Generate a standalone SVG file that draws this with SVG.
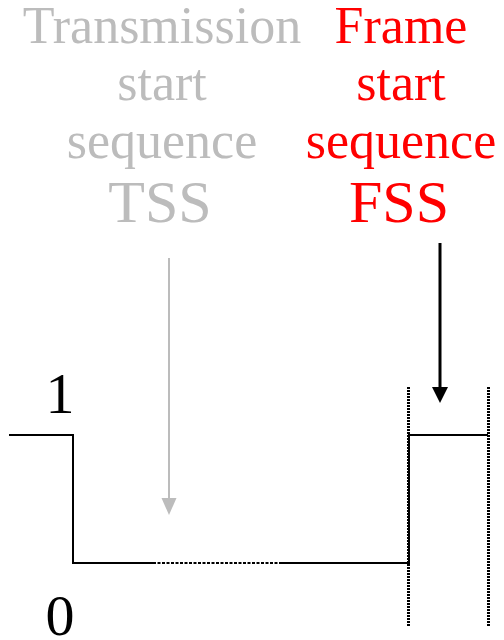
<svg xmlns="http://www.w3.org/2000/svg" width="504" height="640" viewBox="0 0 504 640">
<style>
text{font-family:"Liberation Serif","Times New Roman",serif;text-anchor:middle}
.g{fill:#bcbcbc}
.r{fill:#ff0000}
.sig{fill:none;stroke:#000;stroke-width:2}
.dot{fill:none;stroke:#000;stroke-width:3;stroke-dasharray:2,1}
</style>
<g id="tss-label">
<text class="g" x="162" y="43" font-size="52">Transmission</text>
<text class="g" x="162" y="100" font-size="52">start</text>
<text class="g" x="162" y="158" font-size="52">sequence</text>
<text class="g" x="160" y="222" font-size="60">TSS</text>
</g>
<g id="fss-label">
<text class="r" x="401" y="43" font-size="52">Frame</text>
<text class="r" x="401" y="100" font-size="52">start</text>
<text class="r" x="401" y="158" font-size="52">sequence</text>
<text class="r" x="399" y="222" font-size="60">FSS</text>
</g>
<g id="levels">
<text x="60" y="413" font-size="58">1</text>
<text x="60" y="635" font-size="58">0</text>
</g>
<g id="signal">
<polyline class="sig" points="9,435 73,435 73,563 153,563"/>
<line class="sig" x1="153" y1="563" x2="281" y2="563" stroke-dasharray="3,1.5"/>
<polyline class="sig" points="281,563 409,563 409,435 488,435"/>
<line class="dot" x1="408.5" y1="387" x2="408.5" y2="627"/>
<line class="dot" x1="488.5" y1="387" x2="488.5" y2="627"/>
</g>
<g id="connectors">
<line x1="169" y1="258" x2="169" y2="500" stroke="#bcbcbc" stroke-width="2"/>
<path d="M161.5,498 L176.5,498 L169,515 Z" fill="#bcbcbc"/>
<line x1="440" y1="243" x2="440" y2="389" stroke="#000" stroke-width="3"/>
<path d="M432,387 L448,387 L440,403 Z" fill="#000"/>
</g>
</svg>
